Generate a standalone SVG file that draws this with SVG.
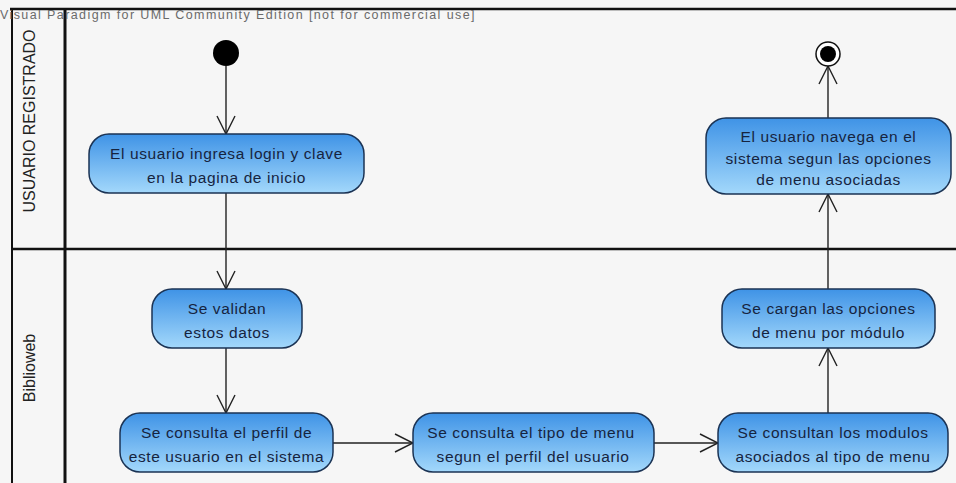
<svg xmlns="http://www.w3.org/2000/svg" width="956" height="483" viewBox="0 0 956 483">
  <defs>
    <linearGradient id="actFill" x1="0" y1="0" x2="0" y2="1">
      <stop offset="0" stop-color="#3f93e6"/>
      <stop offset="1" stop-color="#a3d8fb"/>
    </linearGradient>
    <marker id="openArrow" viewBox="0 0 20 20" refX="19" refY="10" markerWidth="20" markerHeight="20" markerUnits="userSpaceOnUse" orient="auto">
      <path d="M1,1 L19,10 L1,19" fill="none" stroke="#222" stroke-width="1.4"/>
    </marker>
    <style>
      .lane { stroke: #111; fill: none; }
      .act rect { fill: url(#actFill); stroke: #1b3354; stroke-width: 1.5; }
      .act text { font-family: "Liberation Sans", Arial, sans-serif; font-size: 15.5px; letter-spacing: 0.6px; fill: #16243f; text-anchor: middle; }
      .lbl { font-family: "Liberation Sans", Arial, sans-serif; font-size: 16px; fill: #222; text-anchor: middle; }
      .flow { stroke: #222; stroke-width: 1.4; fill: none; marker-end: url(#openArrow); }
      .wm { font-family: "Liberation Sans", Arial, sans-serif; font-size: 12.5px; letter-spacing: 1.4px; fill: #6a6a6a; }
    </style>
  </defs>

  <rect width="956" height="483" fill="#f6f6f6"/>

  <!-- swimlane frame -->
  <g id="lanes">
    <line class="lane" x1="10" y1="9" x2="956" y2="9" stroke-width="2.5"/>
    <line class="lane" x1="12" y1="9" x2="12" y2="483" stroke-width="2"/>
    <line class="lane" x1="65" y1="9" x2="65" y2="483" stroke-width="3"/>
    <line class="lane" x1="12" y1="249" x2="956" y2="249" stroke-width="2.5"/>
    <text class="lbl" transform="translate(35,121) rotate(-90)">USUARIO REGISTRADO</text>
    <text class="lbl" transform="translate(35,368) rotate(-90)">Biblioweb</text>
  </g>

  <text class="wm" x="0" y="19">Visual Paradigm for UML Community Edition [not for commercial use]</text>

  <!-- control flows -->
  <g id="connectors">
    <line class="flow" x1="226" y1="66" x2="226" y2="134"/>
    <line class="flow" x1="226" y1="193" x2="226" y2="289"/>
    <line class="flow" x1="226" y1="348" x2="226" y2="413"/>
    <line class="flow" x1="333" y1="443" x2="413" y2="443"/>
    <line class="flow" x1="654" y1="443" x2="718" y2="443"/>
    <line class="flow" x1="828" y1="413" x2="828" y2="348"/>
    <line class="flow" x1="828" y1="289" x2="828" y2="194"/>
    <line class="flow" x1="828" y1="118" x2="828" y2="66"/>
  </g>

  <g id="start">
    <circle cx="226" cy="53" r="13" fill="#000"/>
  </g>

  <g id="end">
    <circle cx="828" cy="54" r="12" fill="#fff" stroke="#111" stroke-width="1.5"/>
    <circle cx="828" cy="54" r="8" fill="#000"/>
  </g>

  <g id="login" class="act">
    <rect x="89" y="134" width="275" height="59" rx="20"/>
    <text x="226.5" y="158.5">El usuario ingresa login y clave</text>
    <text x="226.5" y="182.5">en la pagina de inicio</text>
  </g>

  <g id="navega" class="act">
    <rect x="706" y="118" width="245" height="76" rx="20"/>
    <text x="828.5" y="142">El usuario navega en el</text>
    <text x="828.5" y="163.5">sistema segun las opciones</text>
    <text x="828.5" y="185">de  menu asociadas</text>
  </g>

  <g id="validan" class="act">
    <rect x="152" y="289" width="150" height="59" rx="20"/>
    <text x="227" y="313.5">Se validan</text>
    <text x="227" y="337.5">estos datos</text>
  </g>

  <g id="perfil" class="act">
    <rect x="120" y="413" width="213" height="59" rx="20"/>
    <text x="226.5" y="437.5">Se consulta el perfil de</text>
    <text x="226.5" y="461.5">este usuario en el sistema</text>
  </g>

  <g id="tipoMenu" class="act">
    <rect x="413" y="413" width="241" height="59" rx="20"/>
    <text x="531" y="437.5">Se consulta  el tipo de menu</text>
    <text x="533" y="461.5">segun el perfil del usuario</text>
  </g>

  <g id="modulos" class="act">
    <rect x="718" y="413" width="230" height="59" rx="20"/>
    <text x="833" y="437.5">Se consultan los modulos</text>
    <text x="833" y="461.5">asociados al tipo de menu</text>
  </g>

  <g id="cargan" class="act">
    <rect x="722" y="289" width="213" height="59" rx="20"/>
    <text x="828.5" y="313.5">Se cargan las opciones</text>
    <text x="828.5" y="337.5">de menu por módulo</text>
  </g>
</svg>
